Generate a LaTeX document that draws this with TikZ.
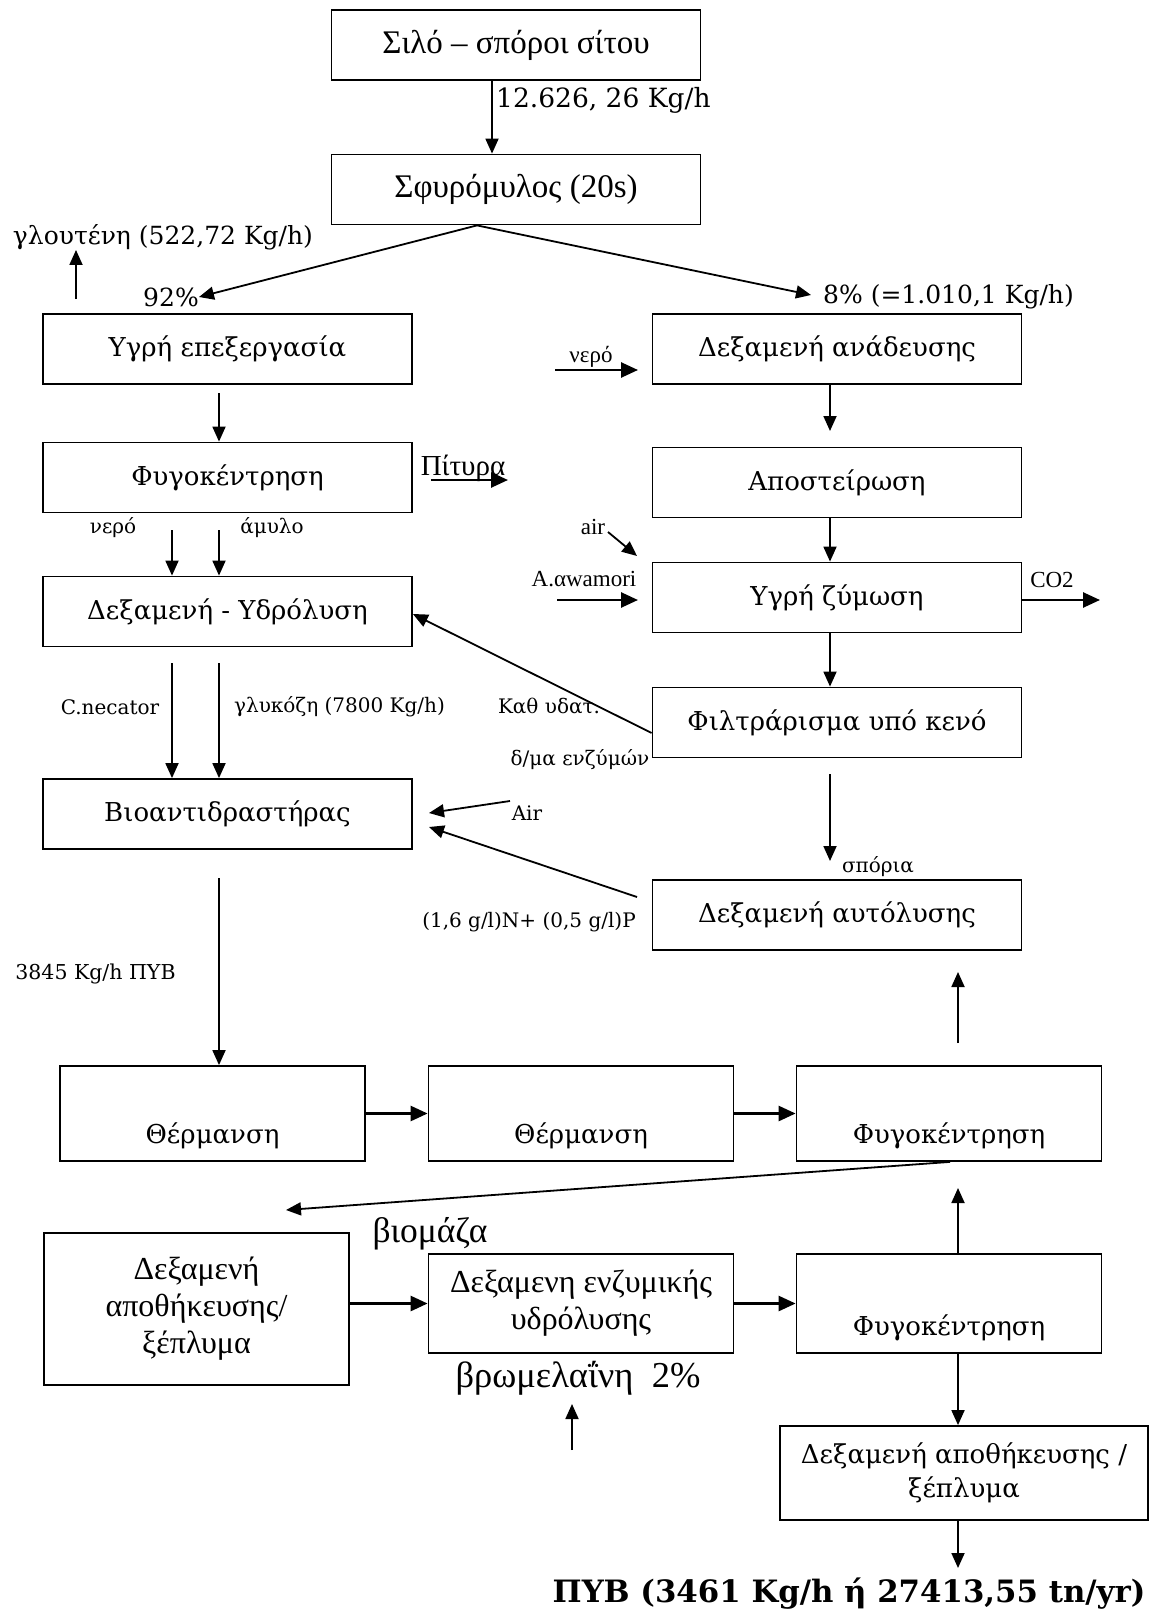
\documentclass[tikz,border=0pt]{standalone}
\usepackage{fontspec}
\setmainfont{Liberation Serif}
\newfontfamily\bkm{DejaVu Serif}
\usetikzlibrary{calc,arrows.meta,positioning}

\begin{document}
\begin{tikzpicture}[x=1pt,y=-1pt,
	box/.style={draw,line width=1.8pt,minimum width=369pt,minimum height=70pt,inner sep=2pt,align=center},
	wbox/.style={box,minimum width=305pt,minimum height=95pt},
	tmsbox/.style={font=\fontsize{32}{37}\selectfont},
	tmstop/.style={font=\fontsize{33}{38}\selectfont},
	bkmbox/.style={font=\bkm\fontsize{26}{34}\selectfont},
	lbl/.style={font=\bkm\fontsize{25}{30}\selectfont,inner sep=0pt},
	smlbl/.style={font=\bkm\fontsize{20}{24}\selectfont,inner sep=0pt},
	tsmall/.style={font=\fontsize{23}{27}\selectfont,inner sep=0pt},
	bigt/.style={font=\fontsize{35.5}{40}\selectfont,inner sep=0pt},
	flow/.style={-{Triangle[length=15pt,width=13pt]},line width=1.8pt},
	flowb/.style={-{Triangle[length=17pt,width=15pt]},line width=2.6pt}]
	\useasboundingbox (0,0) rectangle (1149,1613);

	\node[box,tmstop] (silo) at (516,45) {Σιλό – σπόροι σίτου};
	\node[box,tmstop] (mill) at (516,189.5) {Σφυρόμυλος (20s)};
	\node[box,bkmbox] (wet) at (227.5,349) {Υγρή επεξεργασία};
	\node[box,bkmbox] (mix) at (837,349) {Δεξαμενή ανάδευσης};
	\node[box,bkmbox] (cent1) at (227.5,477.5) {Φυγοκέντρηση};
	\node[box,bkmbox] (steril) at (837,482.5) {Αποστείρωση};
	\node[box,bkmbox] (hydro) at (227.5,611.5) {Δεξαμενή - Υδρόλυση};
	\node[box,bkmbox] (ferm) at (837,597.5) {Υγρή ζύμωση};
	\node[box,bkmbox] (filt) at (837,722.5) {Φιλτράρισμα υπό κενό};
	\node[box,bkmbox] (bio) at (227.5,814) {Βιοαντιδραστήρας};
	\node[box,bkmbox] (autol) at (837,915) {Δεξαμενή αυτόλυσης};
	\node[wbox,bkmbox] (heat1) at (212.5,1113.5) {\mbox{}\\[31pt]Θέρμανση};
	\node[wbox,bkmbox] (heat2) at (581,1113.5) {\mbox{}\\[31pt]Θέρμανση};
	\node[wbox,bkmbox] (cent2) at (949,1113.5) {\mbox{}\\[31pt]Φυγοκέντρηση};
	\node[wbox,tmsbox,minimum height=152pt] (store1) at (196.5,1309) {Δεξαμενή\\αποθήκευσης/\\ξέπλυμα};
	\node[wbox,tmsbox,minimum height=99pt] (enz) at (581,1303.5) {Δεξαμενη ενζυμικής\\υδρόλυσης};
	\node[wbox,bkmbox,minimum height=99pt] (cent3) at (949,1303.5) {\mbox{}\\[35pt]Φυγοκέντρηση};
	\node[box,bkmbox,minimum width=368pt,minimum height=94pt] (store2) at (964,1473) {Δεξαμενή αποθήκευσης /\\ξέπλυμα};

	\node[lbl,anchor=west,font=\bkm\fontsize{26.5}{30}\selectfont] (feed) at (496,100) {12.626, 26 Kg/h};
	\node[lbl] (gl) at (163,237) {γλουτένη (522,72 Kg/h)};
	\node[lbl] (p92) at (171,297) {92\%};
	\node[lbl,anchor=west] (p8) at (823,297) {8\% (=1.010,1 Kg/h)};
	\node[tsmall] (w1) at (591,357) {νερό};
	\node[tsmall,font=\fontsize{29}{34}\selectfont] (bran) at (463,468) {Πίτυρα};
	\node[smlbl] (w2) at (113,528) {νερό};
	\node[smlbl] (starch) at (272,528) {άμυλο};
	\node[tsmall] (air1) at (593,527) {air};
	\node[tsmall] (awa) at (584,579) {A.αwamori};
	\node[tsmall] (co2) at (1052,580) {CO2};
	\node[smlbl] (cnec) at (110,707) {C.necator};
	\node[smlbl] (gluc) at (339.5,707) {γλυκόζη (7800 Kg/h)};
	\node[smlbl] (kath) at (549,706) {Καθ υδατ.};
	\node[smlbl] (enzsol) at (580,760) {δ/μα ενζύμών};
	\node[smlbl] (air2) at (527,813) {Air};
	\node[smlbl] (np) at (529,922) {(1,6 g/l)N+ (0,5 g/l)P};
	\node[smlbl] (seeds) at (878,867) {σπόρια};
	\node[smlbl,font=\bkm\fontsize{20.5}{24}\selectfont] (phb1) at (95.5,974) {3845 Kg/h ΠΥΒ};
	\node[bigt] (biom) at (430,1234) {βιομάζα};
	\node[bigt,font=\fontsize{36.5}{40}\selectfont] (brom) at (578,1378) {βρωμελαΐνη\ \ 2\%};
	\node[font=\bkm\bfseries\fontsize{30.8}{36}\selectfont,inner sep=0pt] (phb2) at (849,1594) {ΠΥΒ (3461 Kg/h ή 27413,55 tn/yr)};

	\coordinate (split) at ($(mill.south)+(-39,0)$);
	\coordinate (tip8) at (811,295);
	\coordinate (g0) at (76,299);
	\coordinate (c1) at (219,393);
	\coordinate (b0) at (431,480);
	\coordinate (b1) at (508,480);
	\coordinate (w2a) at (172,530);
	\coordinate (st1) at (219,530);
	\coordinate (cn0) at (172,663);
	\coordinate (gu0) at (219,663);
	\coordinate (bo) at (219,878);
	\coordinate (m1) at (830,431);
	\coordinate (f0) at (830,774);
	\coordinate (f1) at (830,861);
	\coordinate (w1a) at (555,370);
	\coordinate (w1b) at (638,370);
	\coordinate (ai0) at (608,532);
	\coordinate (ai1) at (637,556);
	\coordinate (aw0) at (557,600);
	\coordinate (aw1) at (638,600);
	\coordinate (co2e) at (1100,600);
	\coordinate (a0) at (510,801);
	\coordinate (a1) at (429,813);
	\coordinate (n0) at (637,897);
	\coordinate (n1) at (429,827);
	\coordinate (u0) at (958,1043);
	\coordinate (u1) at (958,972);
	\coordinate (bt) at (286,1210);
	\coordinate (up1) at (958,1188);
	\coordinate (br0) at (572,1450);
	\coordinate (br1) at (572,1404);
	\coordinate (fin) at (958,1568);

	\draw[flow] ($(silo.south)+(-24,0)$) -- ($(mill.north)+(-24,0)$);
	\draw[flow] (split) -- (p92.east);
	\draw[flow] (split) -- (tip8);
	\draw[flow] (g0) -- (g0 |- gl.south);
	\draw[flow] (c1) -- (c1 |- cent1.north);
	\draw[flowb] (b0) -- (b1);
	\draw[flow] (w2a) -- (w2a |- hydro.north);
	\draw[flow] (st1) -- (st1 |- hydro.north);
	\draw[flow] (cn0) -- (cn0 |- bio.north);
	\draw[flow] (gu0) -- (gu0 |- bio.north);
	\draw[flow] (bo) -- (bo |- heat1.north);
	\draw[flowb] (heat1) -- (heat2);
	\draw[flowb] (heat2) -- (cent2);
	\draw[flow] (u0) -- (u1);
	\draw[flow] ($(cent2.south)+(1,0)$) -- (bt);
	\draw[flowb] (store1.east |- enz) -- (enz.west);
	\draw[flowb] (enz) -- (cent3);
	\draw[flow] (br0) -- (br1);
	\draw[flow] (up1 |- cent3.north) -- (up1);
	\draw[flow] (up1 |- cent3.south) -- (up1 |- store2.north);
	\draw[flow] (fin |- store2.south) -- (fin);
	\draw[flow] (m1 |- mix.south) -- (m1);
	\draw[flow] (m1 |- steril.south) -- (m1 |- ferm.north);
	\draw[flow] (m1 |- ferm.south) -- (m1 |- filt.north);
	\draw[flow] (f0) -- (f1);
	\draw[flow] ($(filt.west)+(0,10.5)$) -- ($(hydro.east)+(0,2.5)$);
	\draw[flow] (a0) -- (a1);
	\draw[flow] (n0) -- (n1);
	\draw[flowb] (w1a) -- (w1b);
	\draw[flow] (ai0) -- (ai1);
	\draw[flowb] (aw0) -- (aw1);
	\draw[flowb] (ferm.east |- aw0) -- (co2e);
\end{tikzpicture}
\end{document}
